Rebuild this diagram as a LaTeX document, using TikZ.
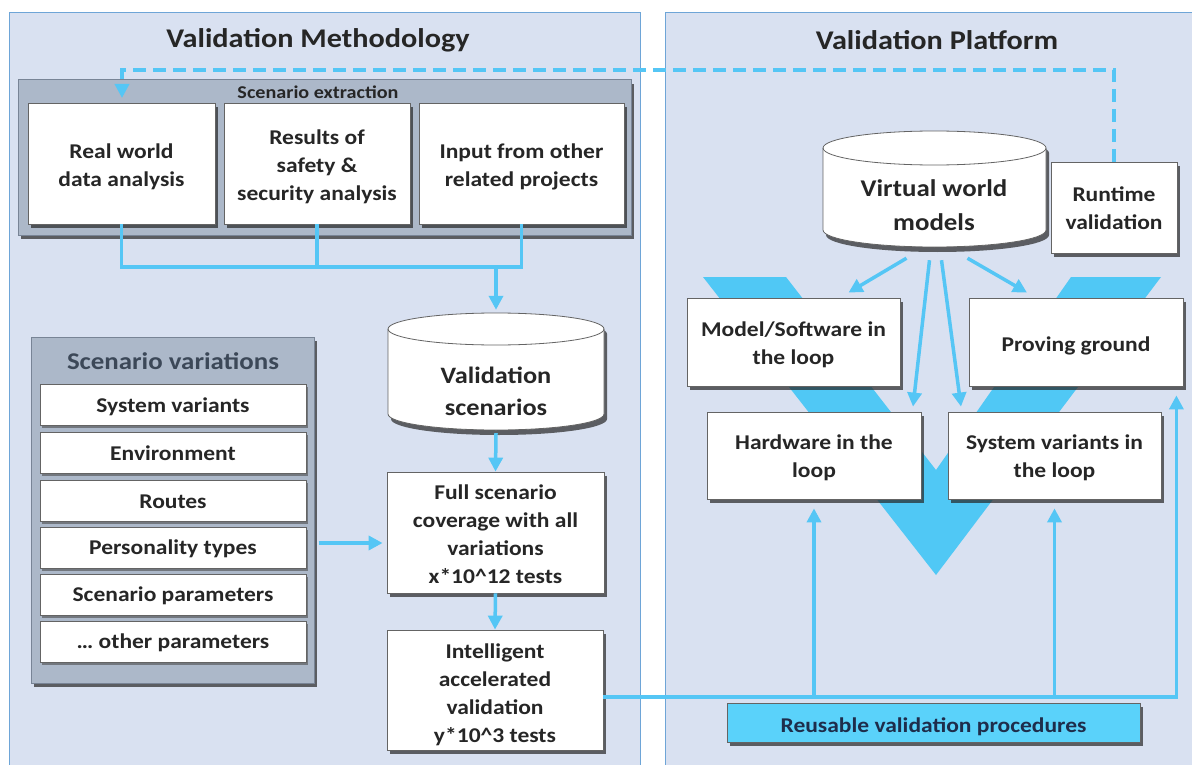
\documentclass[tikz,border=0pt]{standalone}
\usepackage{fontspec}
\setmainfont{Carlito}[FakeStretch=1.12]
\usetikzlibrary{arrows.meta,shadows,calc}
\definecolor{panelfill}{RGB}{217,225,241}
\definecolor{panelline}{RGB}{110,165,215}
\definecolor{cy}{RGB}{85,198,245}
\definecolor{vcol}{RGB}{80,200,245}
\definecolor{grayfill}{RGB}{172,184,201}
\definecolor{grayline}{RGB}{120,132,150}
\definecolor{boxline}{RGB}{100,100,100}
\definecolor{txt}{RGB}{38,38,38}
\definecolor{vartxt}{RGB}{60,72,88}
\definecolor{rvpfill}{RGB}{90,210,250}
\definecolor{rvptxt}{RGB}{30,45,75}

\newcommand{\tx}[2][3pt]{\raisebox{-#1}[\height][\depth]{\begin{tabular}{@{}c@{}}#2\end{tabular}}}

\newcommand{\drawcyl}[5]{%
  \pgfmathsetmacro\cylrx{(#2-#1)/2}%
  \fill[black!85, opacity=0.7] (#1+3,-#3-#5-5) -- (#1+3,-#4+#5-5)
     arc[start angle=180, end angle=360, x radius=\cylrx, y radius=#5]
     -- (#2+3,-#3-#5-5) arc[start angle=0, end angle=180, x radius=\cylrx, y radius=#5] -- cycle;
  \draw[boxline, line width=0.8pt, fill=white] (#1,-#3-#5) -- (#1,-#4+#5)
     arc[start angle=180, end angle=360, x radius=\cylrx, y radius=#5]
     -- (#2,-#3-#5) arc[start angle=0, end angle=180, x radius=\cylrx, y radius=#5] -- cycle;
  \draw[boxline, line width=0.8pt] (#1,-#3-#5)
     arc[start angle=180, end angle=360, x radius=\cylrx, y radius=#5];
}

\tikzset{
  panel/.style={fill=panelfill, draw=panelline, line width=1pt},
  shad/.style={drop shadow={shadow xshift=3pt, shadow yshift=-4pt, fill=black!85, opacity=0.7}},
  wbox/.style={draw=boxline, line width=0.8pt, fill=white, shad, align=center,
     font=\bfseries\fontsize{21}{28}\selectfont, text=txt, inner sep=2pt},
  gbox/.style={draw=grayline, line width=1pt, fill=grayfill, shad},
  rowbox/.style={draw=boxline, line width=0.8pt, fill=white,
     drop shadow={shadow xshift=2pt, shadow yshift=-2.5pt, fill=black!70, opacity=0.6},
     font=\bfseries\fontsize{21}{24}\selectfont, text=txt,
     minimum width=266pt, minimum height=41pt, inner sep=0pt},
  ghost/.style={inner sep=0pt, draw=none},
  conn/.style={draw=cy, line width=3.5pt},
  arr/.style={conn, -{Triangle[length=14pt,width=14pt]}},
  dasharr/.style={conn, dash pattern=on 13pt off 7pt, -{Triangle[length=14pt,width=14pt]}},
  ttl/.style={font=\bfseries\fontsize{27}{32}\selectfont, text=txt},
}

\begin{document}
\begin{tikzpicture}[x=1pt,y=1pt]
\useasboundingbox (0,0) rectangle (1192,-765);
\fill[white] (0,0) rectangle (1192,-765);

% panels
\path[panel] (9,-13) rectangle (640,-775);
\path[panel] (665,-13) rectangle (1200,-775);

\node[ttl] (tm) at (318,-40) {Validation Methodology};
\node[ttl] (tp) at (937,-40) {Validation Platform};

% V shape
\fill[vcol] (703,-277) -- (786,-277) -- (936,-470) -- (1071,-277) -- (1161,-277) -- (936,-575) -- cycle;

% scenario extraction
\node[gbox, minimum width=613pt, minimum height=155pt] (ext) at (324.5,-157.5) {};
\node[font=\bfseries\fontsize{18}{20}\selectfont, text=txt] (extl) at (318,-92) {Scenario extraction};
\node[wbox, minimum width=187pt, minimum height=121pt] (rw) at (121.5,-163.5) {\tx{Real world\\data analysis}};
\node[wbox, minimum width=186pt, minimum height=121pt] (rs) at (317,-163.5) {\tx{Results of\\safety \&\\security analysis}};
\node[wbox, minimum width=205pt, minimum height=121pt] (ip) at (521.5,-163.5) {\tx{Input from other\\related projects}};

% scenario variations
\node[gbox, minimum width=283pt, minimum height=346pt] (var) at (172.5,-510) {};
\node[font=\bfseries\fontsize{24}{28}\selectfont, text=vartxt] (varl) at (173,-361) {Scenario variations};
\node[rowbox] (r1) at (173,-404.5) {\tx{System variants}};
\node[rowbox] (r2) at (173,-452.5) {\tx{Environment}};
\node[rowbox] (r3) at (173,-500.5) {\tx{Routes}};
\node[rowbox] (r4) at (173,-548) {\tx[2pt]{Personality types}};
\node[rowbox] (r5) at (173,-594.5) {\tx[2pt]{Scenario parameters}};
\node[rowbox] (r6) at (173,-642) {\tx[2pt]{\dots{} other parameters}};

% validation scenarios cylinder
\drawcyl{388}{604}{313}{430}{16}
\node[ghost, minimum width=216pt, minimum height=117pt] (vs) at (496,-371.5) {};
\node[font=\bfseries\fontsize{23.5}{32}\selectfont, text=txt, align=center] (vst) at (496,-391) {Validation\\scenarios};

\node[wbox, minimum width=217pt, minimum height=121pt] (full) at (495.5,-532.5) {\tx{Full scenario\\coverage with all\\variations\\x*10\textasciicircum 12 tests}};
\node[wbox, minimum width=216pt, minimum height=120pt] (intel) at (495,-690) {\tx[5pt]{Intelligent\\accelerated\\validation\\y*10\textasciicircum 3 tests}};

% virtual world cylinder
\drawcyl{823}{1046}{131}{247}{17}
\node[ghost, minimum width=223pt, minimum height=116pt] (vw) at (934.5,-189) {};
\node[font=\bfseries\fontsize{24}{34}\selectfont, text=txt, align=center] (vwt) at (934,-205) {Virtual world\\models};

\node[wbox, minimum width=126pt, minimum height=91pt] (rt) at (1114,-207.5) {\tx[2pt]{Runtime\\validation}};

\node[wbox, minimum width=213pt, minimum height=88pt] (msl) at (793.5,-342) {\tx{Model/Software in\\the loop}};
\node[wbox, minimum width=214pt, minimum height=88pt] (pg) at (1076,-342) {\tx[4pt]{Proving ground}};
\node[wbox, minimum width=214pt, minimum height=87pt] (hil) at (814,-455.5) {\tx[2pt]{Hardware in the\\loop}};
\node[wbox, minimum width=213pt, minimum height=87pt] (svl) at (1054.5,-455.5) {\tx[2pt]{System variants in\\the loop}};

\node[draw=boxline, line width=0.8pt, fill=rvpfill, shad, minimum width=413pt, minimum height=39pt,
      font=\bfseries\fontsize{21}{24}\selectfont, text=rvptxt] (rvp) at (933.5,-722.5) {\tx[5pt]{Reusable validation procedures}};

% connectors
\coordinate (dl) at (122,-70);
\coordinate (dend) at (122,-98);
\draw[dasharr] (rt.north) |- (dl) -- (dend);

\coordinate (jn) at (496,-267);
\draw[conn] (rw.south) -- (rw.south |- jn) -- (ip.south |- jn) -- (ip.south);
\draw[conn] (rs.south) -- (rs.south |- jn);
\draw[arr] (jn) -- ([yshift=3pt]vs.north);
\draw[arr] ([yshift=-3pt]vs.south) -- (full.north);
\draw[arr] (full.south) -- (intel.north);
\draw[arr] ([shift={(4,-33)}]var.east) -- ([shift={(-4,-10.5)}]full.west);

\coordinate (bl) at (1176,-697);
\draw[arr] ([yshift=-7pt]intel.east) -| ([xshift=-7pt,yshift=-9pt]pg.south east);
\draw[arr] (hil.south |- bl) -- ([yshift=-9pt]hil.south);
\draw[arr] (svl.south |- bl) -- ([yshift=-9pt]svl.south);

\draw[arr] ([shift={(-28,-11)}]vw.south) -- ([shift={(55,5)}]msl.north);
\draw[arr] ([shift={(-5,-13)}]vw.south) -- ([shift={(99,5)}]hil.north);
\draw[arr] ([shift={(7,-13)}]vw.south) -- ([shift={(-93.5,5)}]svl.north);
\draw[arr] ([shift={(33,-11)}]vw.south) -- ([shift={(-49,5)}]pg.north);
\end{tikzpicture}
\end{document}
